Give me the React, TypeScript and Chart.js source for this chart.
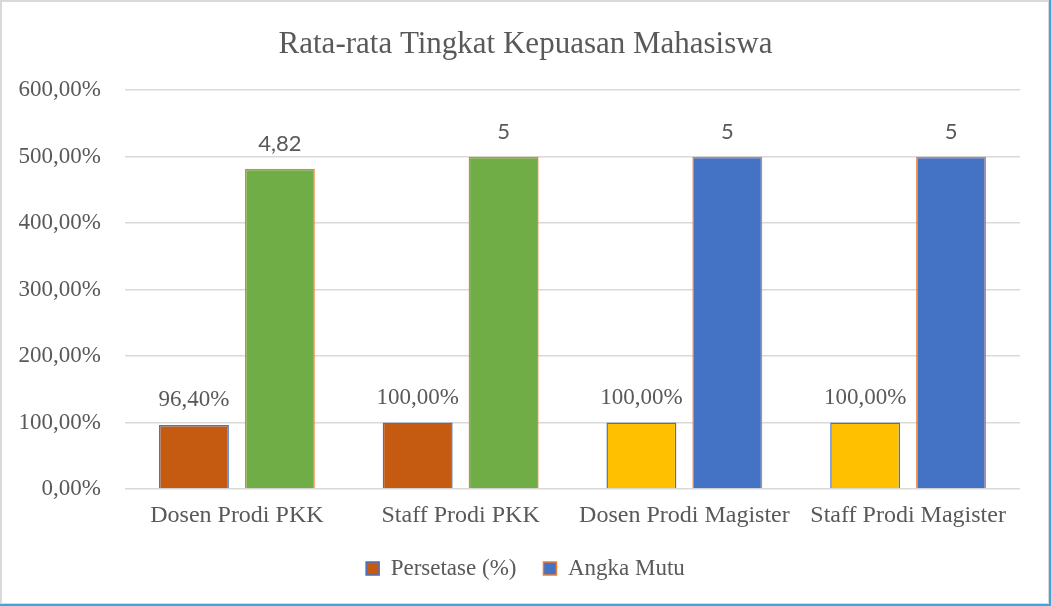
import React, { useEffect, useRef } from "react";
import { Chart, registerables } from "chart.js";

Chart.register(...registerables);

const title = "Rata-rata Tingkat Kepuasan Mahasiswa";
const categories = ["Dosen Prodi PKK", "Staff Prodi PKK", "Dosen Prodi Magister", "Staff Prodi Magister"];
const persetase = [0.964, 1, 1, 1];
const angkaMutu = [4.82, 5, 5, 5];
const seriesNames = ["Persetase (%)", "Angka Mutu"];
const yMax = 6;
const yStep = 1;

const persetaseFill = ["#C55A11", "#C55A11", "#FFC000", "#FFC000"];
const angkaMutuFill = ["#70AD47", "#70AD47", "#4472C4", "#4472C4"];
const BLUE = "#4472C4";
const ORANGE = "#ED7D31";
const TEXT = "#595959";
const SERIF = "'Liberation Serif', 'Times New Roman', serif";
const SANS = "Lato, 'Liberation Sans', sans-serif";

const pctFmt = (v: number) => (v * 100).toFixed(2).replace(".", ",") + "%";
const numFmt = (v: number) => String(v).replace(".", ",");

const dataLabels = {
  id: "dataLabels",
  afterDatasetsDraw(chart: any) {
    const ctx = chart.ctx;
    ctx.save();
    ctx.fillStyle = TEXT;
    ctx.textAlign = "center";
    ctx.textBaseline = "middle";
    chart.data.datasets.forEach((ds: any, di: number) => {
      const meta = chart.getDatasetMeta(di);
      meta.data.forEach((el: any, i: number) => {
        const v = ds.data[i];
        if (di === 0) {
          ctx.font = `23px ${SERIF}`;
          ctx.fillText(pctFmt(v), el.x, el.y - 25);
        } else {
          ctx.font = `22px ${SANS}`;
          ctx.fillText(numFmt(v), el.x, el.y - 25);
        }
      });
    });
    ctx.restore();
  },
};

export default function App() {
  const ref = useRef<HTMLCanvasElement>(null);
  useEffect(() => {
    if (!ref.current) return;
    const chart = new Chart(ref.current, {
      type: "bar",
      data: {
        labels: categories,
        datasets: [
          {
            label: seriesNames[0],
            data: persetase,
            backgroundColor: persetaseFill,
            borderColor: BLUE,
            borderWidth: 1.5,
            categoryPercentage: 0.768,
            barPercentage: 0.814,
          },
          {
            label: seriesNames[1],
            data: angkaMutu,
            backgroundColor: angkaMutuFill,
            borderColor: ORANGE,
            borderWidth: 1.5,
            categoryPercentage: 0.768,
            barPercentage: 0.814,
          },
        ],
      },
      options: {
        animation: false,
        responsive: false,
        maintainAspectRatio: false,
        layout: { padding: { left: 18, right: 18, top: 0, bottom: 16 } },
        plugins: {
          title: {
            display: true,
            text: title,
            color: TEXT,
            font: { family: SERIF, size: 31, weight: "normal" },
            padding: { top: 26, bottom: 27 },
          },
          legend: {
            display: true,
            position: "bottom",
            labels: {
              boxWidth: 13,
              boxHeight: 13,
              padding: 27,
              color: TEXT,
              font: { family: SERIF, size: 23 },
              generateLabels: () => [
                { text: seriesNames[0], fillStyle: persetaseFill[0], strokeStyle: BLUE, lineWidth: 1.5, datasetIndex: 0, hidden: false, fontColor: TEXT },
                { text: seriesNames[1], fillStyle: BLUE, strokeStyle: ORANGE, lineWidth: 1.5, datasetIndex: 1, hidden: false, fontColor: TEXT },
              ],
            },
          },
          tooltip: { enabled: false },
        },
        scales: {
          x: {
            grid: { display: false, drawTicks: false },
            border: { display: false },
            ticks: { color: TEXT, font: { family: SERIF, size: 24 }, padding: 12, maxRotation: 0 },
            afterFit: (s: any) => {
              s.height = 41;
            },
          },
          y: {
            min: 0,
            max: yMax,
            grid: { color: "#d9d9d9", lineWidth: 1.5, drawTicks: false },
            border: { display: false },
            ticks: {
              stepSize: yStep,
              color: TEXT,
              font: { family: SERIF, size: 23 },
              padding: 24,
              callback: (v: any) => pctFmt(Number(v)),
            },
            afterFit: (s: any) => {
              s.width = 107;
            },
          },
          rightSpace: {
            type: "linear",
            position: "right",
            display: true,
            grid: { display: false, drawTicks: false },
            border: { display: false },
            ticks: { display: false },
            afterFit: (s: any) => {
              s.width = 13;
            },
          },
        },
      },
      plugins: [dataLabels],
    });
    return () => chart.destroy();
  }, []);

  return (
    <div style={{ position: "fixed", left: 0, top: 0, width: 1051, height: 606, background: "#fff" }}>
      <canvas ref={ref} width={1051} height={606} style={{ position: "absolute", left: 0, top: 0, width: 1051, height: 606 }} />
      <div style={{ position: "absolute", left: 0, top: 0, right: 0, bottom: 0, boxSizing: "border-box", borderRight: "2px solid #3aa6dd", borderBottom: "2px solid #3aa6dd", pointerEvents: "none" }} />
      <div style={{ position: "absolute", left: 0, top: 0, right: 2, bottom: 2, boxSizing: "border-box", borderTop: "2px solid #d9d9d9", borderLeft: "2px solid #d9d9d9", borderRight: "1px solid #d9d9d9", borderBottom: "1px solid #d9d9d9", pointerEvents: "none" }} />
    </div>
  );
}
